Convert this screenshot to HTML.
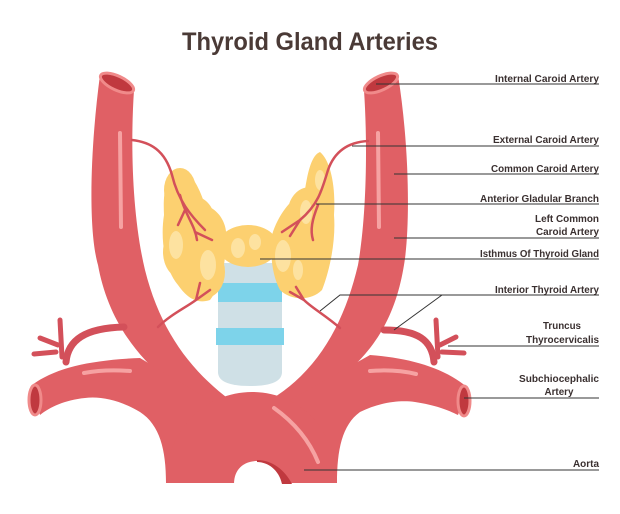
<!DOCTYPE html>
<html><head><meta charset="utf-8"><style>
html,body{margin:0;padding:0;background:#fff;}
svg{display:block;}
text{font-family:"Liberation Sans",sans-serif;font-weight:bold;fill:#3a3030;}
</style></head><body>
<svg width="620" height="514" viewBox="0 0 620 514" xmlns="http://www.w3.org/2000/svg">
<rect width="620" height="514" fill="#fff"/>
<text x="310" y="50" text-anchor="middle" font-size="25" textLength="256" lengthAdjust="spacingAndGlyphs" style="fill:#4a3a36">Thyroid Gland Arteries</text>

<!-- trachea -->
<path d="M218,263 L282,263 L282,372 Q282,386 250,386 Q218,386 218,372 Z" fill="#cfe0e6"/>
<rect x="218" y="283" width="64" height="19" fill="#7dd3ea"/>
<rect x="216" y="328" width="68" height="17" fill="#7dd3ea"/>

<!-- arteries -->
<g fill="#e06065">
<path d="M100,75 C90,150 88,230 98,265 C108,320 140,370 204,405 L230,400 C190,370 160,330 145,270 C133,220 130,150 134,90 Z"/>
<path d="M398,75 C410,150 410,230 404,265 C395,320 370,370 294,405 L270,400 C320,370 345,320 358,265 C366,220 368,150 364,90 Z"/>
<path d="M32,385 C55,368 90,360 140,358 L210,400 L200,483 L166,483 C166,450 160,425 140,412 C120,400 100,396 85,398 C65,400 50,407 40,415 Z"/>
<path d="M468,388 C445,368 410,358 370,355 L290,400 L300,483 L337,483 C337,450 342,425 360,412 C380,402 400,400 415,402 C435,405 448,410 458,415 Z"/>
<path d="M166,483 C166,430 205,392 252,392 C300,392 337,430 337,483 Z"/>
</g>
<!-- aorta hole -->
<path d="M234,484 C234,468 245,461 257,461 C269,461 280,470 282,484 Z" fill="#fff"/>
<path d="M257,460 C272,460 285,470 292,484 L282,484 C279,470 268,462 257,462 Z" fill="#c0393f"/>

<!-- openings -->
<g stroke="#f08a8a" stroke-width="3" fill="#c0393f">
<ellipse cx="117" cy="83" rx="18" ry="7" transform="rotate(25 117 83)"/>
<ellipse cx="381" cy="83" rx="18" ry="7" transform="rotate(-25 381 83)"/>
<ellipse cx="35" cy="400" rx="6" ry="15"/>
<ellipse cx="464" cy="401" rx="6" ry="15"/>
</g>

<!-- highlights -->
<g stroke="#f6a2a2" stroke-width="4" stroke-linecap="round" fill="none">
<line x1="120" y1="133" x2="121" y2="227"/>
<line x1="378" y1="133" x2="379" y2="227"/>
<path d="M84,373 Q105,369 130,371"/>
<path d="M370,371 Q395,369 416,374"/>
<path d="M274,408 Q305,430 318,462"/>
</g>

<!-- truncus branches -->
<g stroke="#d3505a" fill="none" stroke-linecap="round">
<path d="M66,362 C68,340 85,328 124,327" stroke-width="7"/>
<path d="M62,357 L60,320" stroke-width="5"/>
<path d="M58,345 L40,338 M56,352 L34,354" stroke-width="5"/>
<path d="M434,362 C432,340 418,330 384,330" stroke-width="7"/>
<path d="M438,357 L436,320" stroke-width="5"/>
<path d="M440,345 L456,337 M442,352 L464,353" stroke-width="5"/>
</g>

<!-- thyroid -->
<g fill="#fcd070">
<path d="M175,172 C190,165 200,190 205,205 C220,210 228,225 226,240 C226,260 222,285 210,300 C195,305 185,295 178,285 C165,270 160,240 164,215 C163,195 165,178 175,172 Z"/>
<path d="M320,152 C330,160 336,185 334,215 C336,240 330,270 322,290 C310,302 290,300 280,290 C272,275 270,255 272,235 C278,215 290,200 305,190 C308,170 312,155 320,152 Z"/>
<ellipse cx="248" cy="246" rx="30" ry="21"/>
<ellipse cx="180" cy="190" rx="16" ry="22"/>
<ellipse cx="192" cy="218" rx="22" ry="22"/>
<ellipse cx="185" cy="252" rx="22" ry="28"/>
<ellipse cx="205" cy="272" rx="20" ry="26"/>
<ellipse cx="310" cy="212" rx="22" ry="25"/>
<ellipse cx="295" cy="238" rx="22" ry="22"/>
<ellipse cx="303" cy="264" rx="24" ry="27"/>
</g>
<g fill="#fde2a0">
<ellipse cx="176" cy="245" rx="7" ry="14"/>
<ellipse cx="208" cy="265" rx="8" ry="15"/>
<ellipse cx="238" cy="248" rx="7" ry="10"/>
<ellipse cx="255" cy="242" rx="6" ry="8"/>
<ellipse cx="283" cy="256" rx="8" ry="16"/>
<ellipse cx="306" cy="212" rx="6" ry="12"/>
<ellipse cx="320" cy="180" rx="5" ry="10"/>
<ellipse cx="298" cy="270" rx="5" ry="10"/>
</g>

<!-- thyroid arteries -->
<g stroke="#d3505a" fill="none" stroke-width="2.5" stroke-linecap="round">
<path d="M132,140 C150,142 165,150 172,175 C178,200 190,215 205,230"/>
<path d="M180,195 C185,215 195,225 197,240 M185,210 L178,225 M195,232 L212,240"/>
<path d="M368,141 C350,142 335,150 328,170 C322,190 318,205 300,220 L282,232"/>
<path d="M318,205 C312,220 310,230 313,240 M300,220 L290,236"/>
<path d="M158,327 C170,315 185,308 196,300 L200,283 M196,300 L210,290"/>
<path d="M340,328 C325,315 312,308 304,300 L296,287 M304,300 L290,292"/>
</g>

<!-- leader lines -->
<g stroke="#333" stroke-width="1" fill="none">
<line x1="376" y1="84" x2="599" y2="84"/>
<line x1="352" y1="146" x2="599" y2="146"/>
<line x1="394" y1="174" x2="599" y2="174"/>
<line x1="316" y1="204" x2="599" y2="204"/>
<line x1="394" y1="238" x2="599" y2="238"/>
<line x1="260" y1="259" x2="599" y2="259"/>
<polyline points="320,311 340,295 599,295"/>
<line x1="442" y1="295" x2="394" y2="330"/>
<line x1="448" y1="346" x2="599" y2="346"/>
<line x1="464" y1="398" x2="599" y2="398"/>
<line x1="304" y1="470" x2="599" y2="470"/>
</g>

<g font-size="10">
<text x="599" y="82" text-anchor="end" textLength="104" lengthAdjust="spacingAndGlyphs">Internal Caroid Artery</text>
<text x="599" y="143" text-anchor="end" textLength="106" lengthAdjust="spacingAndGlyphs">External Caroid Artery</text>
<text x="599" y="172" text-anchor="end" textLength="108" lengthAdjust="spacingAndGlyphs">Common Caroid Artery</text>
<text x="599" y="202" text-anchor="end" textLength="119" lengthAdjust="spacingAndGlyphs">Anterior Gladular Branch</text>
<text x="599" y="222" text-anchor="end" textLength="64" lengthAdjust="spacingAndGlyphs">Left Common</text>
<text x="599" y="235" text-anchor="end" textLength="63" lengthAdjust="spacingAndGlyphs">Caroid Artery</text>
<text x="599" y="257" text-anchor="end" textLength="119" lengthAdjust="spacingAndGlyphs">Isthmus Of Thyroid Gland</text>
<text x="599" y="293" text-anchor="end" textLength="104" lengthAdjust="spacingAndGlyphs">Interior Thyroid Artery</text>
<text x="562" y="329" text-anchor="middle" textLength="38" lengthAdjust="spacingAndGlyphs">Truncus</text>
<text x="599" y="343" text-anchor="end" textLength="73" lengthAdjust="spacingAndGlyphs">Thyrocervicalis</text>
<text x="599" y="382" text-anchor="end" textLength="80" lengthAdjust="spacingAndGlyphs">Subchiocephalic</text>
<text x="559" y="395" text-anchor="middle" textLength="29" lengthAdjust="spacingAndGlyphs">Artery</text>
<text x="599" y="467" text-anchor="end" textLength="26" lengthAdjust="spacingAndGlyphs">Aorta</text>
</g>
</svg>
</body></html>
